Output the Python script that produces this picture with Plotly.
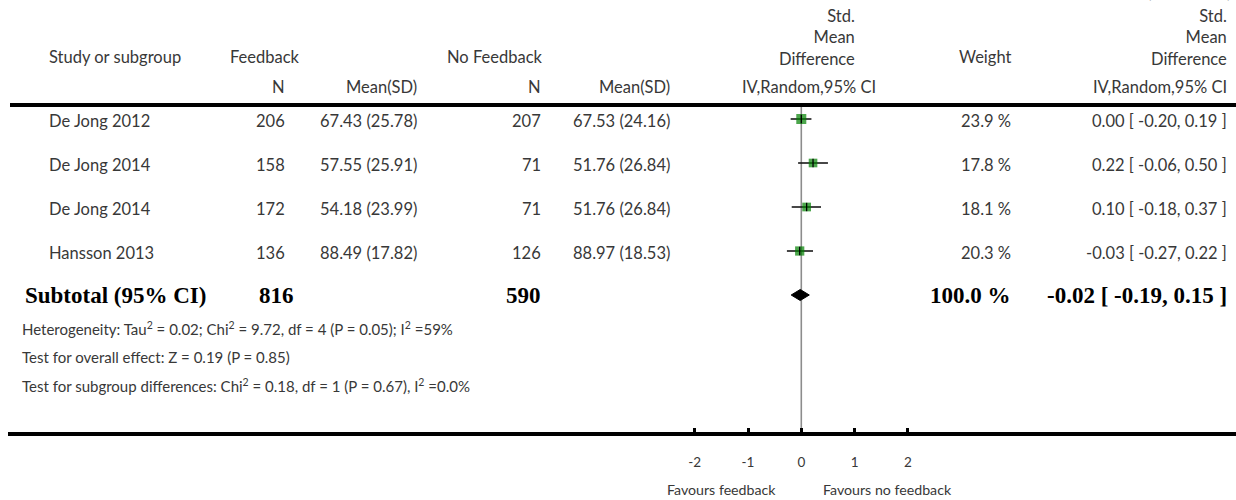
import plotly.graph_objects as go

# ---------------- data ----------------
studies = ["De Jong 2012", "De Jong 2014", "De Jong 2014", "Hansson 2013"]
fb_n = [206, 158, 172, 136]
fb_mean = [67.43, 57.55, 54.18, 88.49]
fb_sd = [25.78, 25.91, 23.99, 17.82]
nf_n = [207, 71, 71, 126]
nf_mean = [67.53, 51.76, 51.76, 88.97]
nf_sd = [24.16, 26.84, 26.84, 18.53]
weights = [23.9, 17.8, 18.1, 20.3]
smd = [0.00, 0.22, 0.10, -0.03]
ci_lo = [-0.20, -0.06, -0.18, -0.27]
ci_hi = [0.19, 0.50, 0.37, 0.22]

total_fb_n = 816
total_nf_n = 590
total_weight = 100.0
total_smd = -0.02
total_lo = -0.19
total_hi = 0.15

axis_ticks = [-2, -1, 0, 1, 2]
axis_ticktext = ["-2", "-1", "0", "1", "2"]

footer_lines = [
    "Heterogeneity: Tau<sup>2</sup> = 0.02; Chi<sup>2</sup> = 9.72, df = 4 (P = 0.05); I<sup>2</sup> =59%",
    "Test for overall effect: Z = 0.19 (P = 0.85)",
    "Test for subgroup differences: Chi<sup>2</sup> = 0.18, df = 1 (P = 0.67), I<sup>2</sup> =0.0%",
]

# ---------------- layout geometry (pixels) ----------------
W, H = 1236, 500
ZERO_PX = 801.3
UNIT_PX = 53.3
AXIS_Y = 434
TOP_LINE_Y = 105
ROW0 = 119
ROW_STEP = 44
TEXT_DY = 2

FONT = "Lato"
GREY = "#383838"
FS = 16.5


def px(x):
    return x / W


def py(y):
    return 1 - y / H


annotations = []


def txt(x, y, s, anchor="left", size=FS, font=FONT, color=GREY, bold=False, align=None):
    if bold:
        s = "<b>" + s + "</b>"
    annotations.append(dict(
        x=px(x), y=py(y), xref="paper", yref="paper", text=s, showarrow=False,
        xanchor=anchor, yanchor="middle", align=align or anchor if anchor != "center" else "center",
        font=dict(family=font, size=size, color=color),
    ))


# header
txt(1233, -8, "(Continued)", anchor="right")
txt(47, 57, "Study or subgroup")
txt(228, 57, "Feedback")
txt(445, 57, "No Feedback")
txt(857, 37.5, "Std.<br>Mean<br>Difference", anchor="right", align="right")
txt(1013, 57, "Weight", anchor="right")
txt(1229, 37.5, "Std.<br>Mean<br>Difference", anchor="right", align="right")
txt(287, 87, "N", anchor="right")
txt(419, 87, "Mean(SD)", anchor="right")
txt(543, 87, "N", anchor="right")
txt(672, 87, "Mean(SD)", anchor="right")
txt(878, 87, "IV,Random,95% CI", anchor="right")
txt(1229, 87, "IV,Random,95% CI", anchor="right")

rows_y = [ROW0 + ROW_STEP * i for i in range(len(studies))]
for i, y in enumerate(rows_y):
    ty = y + TEXT_DY
    txt(47, ty, studies[i])
    txt(287, ty, str(fb_n[i]), anchor="right")
    txt(419, ty, f"{fb_mean[i]:.2f} ({fb_sd[i]:.2f})", anchor="right")
    txt(543, ty, str(nf_n[i]), anchor="right")
    txt(672, ty, f"{nf_mean[i]:.2f} ({nf_sd[i]:.2f})", anchor="right")
    txt(1013, ty, f"{weights[i]:.1f} %", anchor="right")
    txt(1229, ty, f"{smd[i]:.2f} [ {ci_lo[i]:.2f}, {ci_hi[i]:.2f} ]", anchor="right")

sub_y = ROW0 + ROW_STEP * len(studies)
SERIF = "Liberation Serif"
BFS = 23
txt(23, sub_y, "Subtotal (95% CI)", size=BFS, font=SERIF, color="black", bold=True)
txt(296, sub_y, str(total_fb_n), anchor="right", size=BFS, font=SERIF, color="black", bold=True)
txt(543, sub_y, str(total_nf_n), anchor="right", size=BFS, font=SERIF, color="black", bold=True)
txt(1013, sub_y, f"{total_weight:.1f} %", anchor="right", size=BFS, font=SERIF, color="black", bold=True)
txt(1229, sub_y, f"{total_smd:.2f} [ {total_lo:.2f}, {total_hi:.2f} ]", anchor="right",
    size=BFS, font=SERIF, color="black", bold=True)

for j, line in enumerate(footer_lines):
    txt(20, 328 + 28.5 * j, line, size=15)

txt(721, 489, "Favours feedback", anchor="center", size=14.2)
txt(887, 489, "Favours no feedback", anchor="center", size=14.2)

# ---------------- traces ----------------
fig = go.Figure()

err_plus = [h - s for h, s in zip(ci_hi, smd)]
err_minus = [s - l for s, l in zip(smd, ci_lo)]

fig.add_trace(go.Scatter(
    x=smd, y=rows_y, mode="markers",
    marker=dict(symbol="square", size=[2.05 * w ** 0.5 for w in weights], color="#008000",
                line=dict(width=0)),
    error_x=dict(type="data", symmetric=False, array=err_plus, arrayminus=err_minus,
                 color="#1a1a1a", thickness=1.6, width=0),
    cliponaxis=False, hoverinfo="skip",
))
fig.add_trace(go.Scatter(
    x=smd, y=rows_y, mode="markers",
    marker=dict(symbol="line-ns", size=6, line=dict(width=1.3, color="black")),
    cliponaxis=False, hoverinfo="skip",
))
dh = 5.5
fig.add_trace(go.Scatter(
    x=[total_lo, total_smd, total_hi, total_smd, total_lo],
    y=[sub_y, sub_y - dh, sub_y, sub_y + dh, sub_y],
    mode="lines", fill="toself", fillcolor="black", line=dict(color="black", width=1),
    cliponaxis=False, hoverinfo="skip",
))

shapes = [
    dict(type="line", xref="x", yref="y", x0=0, x1=0, y0=TOP_LINE_Y, y1=AXIS_Y,
         line=dict(color="#8c8c8c", width=1.6), layer="below"),
    dict(type="line", xref="paper", yref="paper", x0=px(10), x1=1, y0=py(TOP_LINE_Y), y1=py(TOP_LINE_Y),
         line=dict(color="black", width=4)),
    dict(type="line", xref="paper", yref="paper", x0=px(8), x1=1, y0=py(AXIS_Y), y1=py(AXIS_Y),
         line=dict(color="black", width=4)),
]

fig.update_layout(
    width=W, height=H,
    margin=dict(l=0, r=0, t=0, b=0),
    paper_bgcolor="white", plot_bgcolor="white",
    showlegend=False,
    annotations=annotations,
    shapes=shapes,
    xaxis=dict(
        domain=[0, 1],
        range=[(0 - ZERO_PX) / UNIT_PX, (W - ZERO_PX) / UNIT_PX],
        tickvals=axis_ticks, ticktext=axis_ticktext,
        ticks="inside", ticklen=6, tickwidth=2.5, tickcolor="black",
        showline=False, showgrid=False, zeroline=False,
        tickfont=dict(family=FONT, size=13.5, color=GREY),
        ticklabelstandoff=18,
        fixedrange=True,
    ),
    yaxis=dict(
        domain=[1 - AXIS_Y / H, 1],
        range=[AXIS_Y, 0],
        visible=False, showgrid=False, zeroline=False, fixedrange=True,
    ),
)

fig.write_html(
    "out.html",
    config={"displayModeBar": False},
    post_script="document.body.style.margin='0';document.body.style.overflow='hidden';",
)
